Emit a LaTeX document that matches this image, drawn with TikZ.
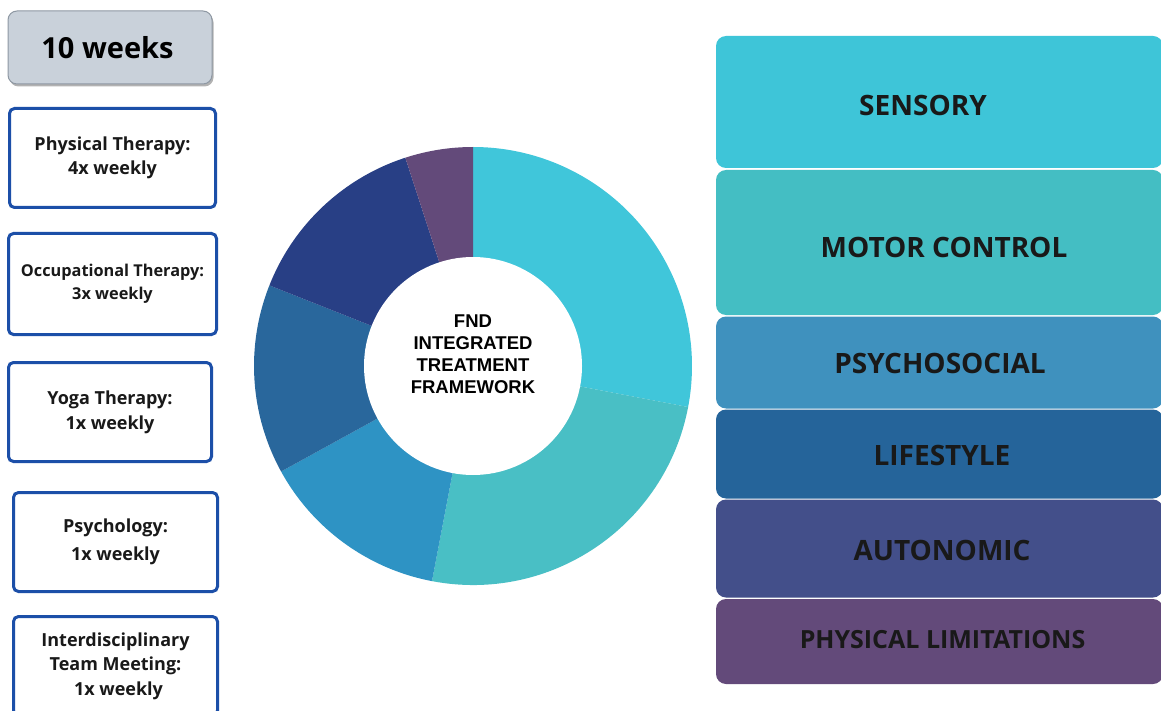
\documentclass[tikz,border=0pt]{standalone}
\usepackage{fontspec}
\setmainfont{Open Sans}
\newfontfamily\chartfont{Liberation Sans}
\usetikzlibrary{shadows}

\definecolor{weekfill}{HTML}{C9D1DA}
\definecolor{weekline}{HTML}{8E98A3}
\definecolor{therapyline}{HTML}{1C4FA8}
\definecolor{sensory}{HTML}{40C6DA}
\definecolor{motor}{HTML}{49BFC5}
\definecolor{psycho}{HTML}{2E93C4}
\definecolor{lifestyle}{HTML}{29679C}
\definecolor{autonomic}{HTML}{283F85}
\definecolor{limits}{HTML}{634A7A}
\definecolor{sensorybox}{HTML}{3EC5D8}
\definecolor{motorbox}{HTML}{44BEC3}
\definecolor{psychobox}{HTML}{3F91BE}
\definecolor{lifestylebox}{HTML}{25649A}
\definecolor{autonomicbox}{HTML}{434F8A}

\tikzset{
  weekbox/.style={draw=weekline, fill=weekfill, line width=1pt, rounded corners=9pt,
    minimum width=204pt, minimum height=73pt,
    drop shadow={shadow xshift=1.5pt, shadow yshift=-2.5pt, fill=black!60},
    font=\bfseries\fontsize{29}{30}\selectfont},
  therapybox/.style={draw=therapyline, fill=white, line width=3pt, rounded corners=5pt,
    minimum height=99pt, align=center, text=black!90},
  catlabel/.style={font=\bfseries\fontsize{28}{30}\selectfont, text=black!90},
}

\begin{document}
\begin{tikzpicture}[x=1pt,y=-1pt]
\fill[white] (0,0) rectangle (1161,711);
\useasboundingbox (0,0) rectangle (1161,711);

% schedule column
\node[weekbox] (weeks) at (110,47.5) {\hspace*{-5pt}10 weeks};
\node[therapybox, minimum width=206pt, font=\bfseries\fontsize{18}{24}\selectfont] (pt) at (112.5,158) {Physical Therapy:\\4x weekly};
\node[therapybox, minimum width=208pt, minimum height=101pt, font=\bfseries\fontsize{16.3}{23}\selectfont] (ot) at (112.5,284) {Occupational Therapy:\\3x weekly};
\node[therapybox, minimum width=203pt, font=\bfseries\fontsize{18}{25}\selectfont] (yoga) at (110,412) {Yoga Therapy:\\1x weekly};
\node[therapybox, minimum width=204pt, font=\bfseries\fontsize{18}{28}\selectfont] (psych) at (115.5,542) {Psychology:\\1x weekly};
\node[therapybox, minimum width=204pt, font=\bfseries\fontsize{18}{24.5}\selectfont] (team) at (115.5,666) {Interdisciplinary\\Team Meeting:\\\hspace*{6pt}1x weekly};

% donut
\coordinate (ring) at (473,366);
\foreach \from/\to/\col in {-90/10.8/sensory, 10.8/100.8/motor, 100.8/151.2/psycho,
    151.2/201.6/lifestyle, 201.6/252/autonomic, 252/270/limits}
  \fill[\col] (ring) -- ++(\from:219) arc[start angle=\from, end angle=\to, radius=219] -- cycle;
\node[circle, fill=white, minimum size=218pt, inner sep=0pt] (hub) at (ring) {};
\node[align=center, font=\chartfont\bfseries\fontsize{18.5}{22}\selectfont] (title) at (473,354)
  {FND\\INTEGRATED\\TREATMENT\\FRAMEWORK};

% domains
\fill[sensorybox, rounded corners=10pt] (716,36) rectangle (1163,168);
\fill[motorbox, rounded corners=10pt] (716,170) rectangle (1163,315);
\fill[psychobox, rounded corners=10pt] (716,316.5) rectangle (1163,408.5);
\fill[lifestylebox, rounded corners=10pt] (716,409.5) rectangle (1163,498.5);
\fill[autonomicbox, rounded corners=10pt] (716,499.5) rectangle (1163,597.5);
\fill[limits, rounded corners=10pt] (716,599) rectangle (1163,684);
\node[catlabel] (sens) at (923,105) {SENSORY};
\node[catlabel] (mot) at (944,247) {MOTOR CONTROL};
\node[catlabel] (psy) at (940,363) {PSYCHOSOCIAL};
\node[catlabel] (life) at (942,455) {LIFESTYLE};
\node[catlabel] (auto) at (942,550) {AUTONOMIC};
\node[catlabel, font=\bfseries\fontsize{25}{28}\selectfont] (lim) at (942.5,640) {PHYSICAL LIMITATIONS};
\end{tikzpicture}
\end{document}
